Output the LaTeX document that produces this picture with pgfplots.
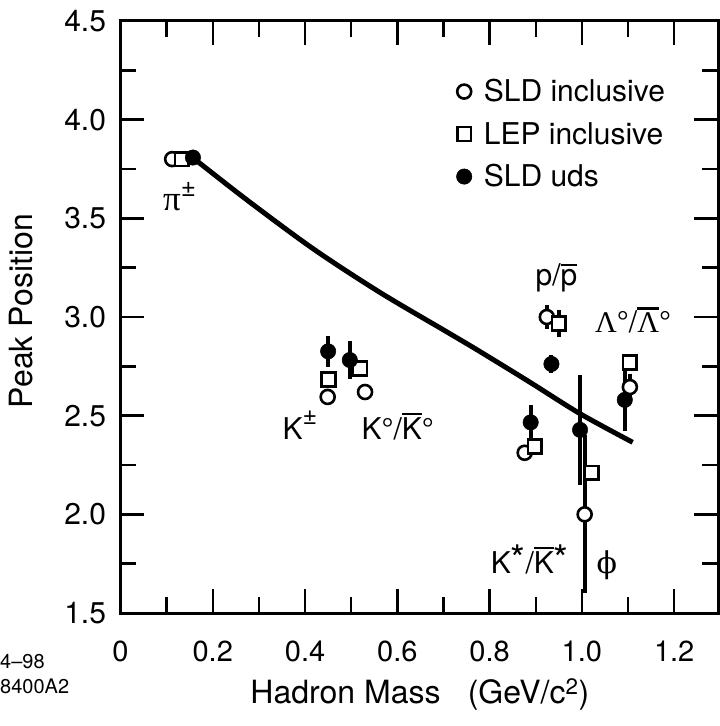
\documentclass[border=0pt]{standalone}
\usepackage{fontspec}
\setmainfont{TeX Gyre Heros}
\newfontfamily\gr{Liberation Serif}
\newfontfamily\grb{DejaVu Serif}
\usepackage{pgfplots}
\usepackage{pgfplotstable}
\pgfplotsset{compat=1.18}
\usetikzlibrary{calc}
\newcommand\ovl[1]{\leavevmode\vbox{\hrule height 2.4pt\kern 2.6pt\hbox{#1}}}
\newcommand\lab{\fontsize{30}{36}\selectfont}

\pgfplotstableread{
x y e
0.112 3.800 0
0.449 2.595 0
0.530 2.620 0.035
0.924 3.000 0.06
0.876 2.312 0.02
1.006 2.000 0.40
1.104 2.645 0.065
}\sldinc
\pgfplotstableread{
x y e
0.133 3.800 0
0.451 2.683 0
0.519 2.740 0.03
0.950 2.968 0.07
0.898 2.343 0.04
1.021 2.210 0.02
1.104 2.770 0
}\lepinc
\pgfplotstableread{
x y e
0.157 3.808 0.012
0.450 2.826 0.08
0.497 2.782 0.095
0.934 2.762 0.046
0.889 2.466 0.09
0.996 2.428 0.28
1.093 2.580 0.16
}\slduds
\pgfplotstableread{
x y
0.158 3.805
0.273 3.595
0.418 3.345
0.562 3.125
0.707 2.925
0.779 2.825
0.887 2.670
0.996 2.510
1.110 2.365
}\curve

\begin{document}
\begin{tikzpicture}
\begin{axis}[
  scale only axis, width=597.5pt, height=592pt,
  xmin=0, xmax=1.295, ymin=1.5, ymax=4.5,
  axis line style={line width=3pt},
  every tick/.style={black, line width=2.5pt},
  tick align=inside,
  major tick length=24pt, minor tick length=16pt,
  xtick={0,0.2,0.4,0.6,0.8,1.0,1.2}, xticklabels={0,0.2,0.4,0.6,0.8,1.0,1.2},
  minor x tick num=1,
  ytick={1.5,2,2.5,3,3.5,4,4.5}, yticklabels={1.5,2.0,2.5,3.0,3.5,4.0,4.5},
  minor y tick num=1,
  /pgf/number format/assume math mode=true,
  xticklabel style={font=\fontsize{29}{34}\selectfont, yshift=-24pt},
  yticklabel style={font=\fontsize{30}{36}\selectfont, xshift=-11pt},
  xlabel={Hadron Mass\hspace{0.85em}(GeV/c\textsuperscript{2})},
  ylabel={Peak Position},
  label style={font=\fontsize{32}{40}\selectfont},
  xlabel style={at={(axis description cs:0.501,-0.137)}, anchor=center},
  ylabel style={at={(axis description cs:-0.166,0.51)}, anchor=center},
  legend cell align=left,
  legend image code/.code={\draw[#1] plot coordinates {(0pt,0pt)};},
  legend style={draw=none, fill=none, font=\lab, inner sep=0pt,
    at={(axis description cs:0.562,0.809)}, anchor=west,
    nodes={inner sep=0pt, text height=22pt, text depth=2pt},
    row sep=18.5pt, column sep=12pt},
  error bars/error bar style={line width=4pt},
]
\addplot[smooth, line width=5pt, forget plot] table[x=x,y=y] {\curve};
\addplot[only marks, mark=*, mark size=7pt,
  mark options={fill=white, draw=black, line width=2.6pt},
  error bars/.cd, y dir=both, y explicit, error mark=none]
  table[x=x, y=y, y error=e] {\sldinc};
\addlegendentry{SLD inclusive}
\addplot[only marks, mark=square*, mark size=6.9pt,
  mark options={fill=white, draw=black, line width=2.6pt},
  error bars/.cd, y dir=both, y explicit, error mark=none]
  table[x=x, y=y, y error=e] {\lepinc};
\addlegendentry{LEP inclusive}
\addplot[only marks, mark=*, mark size=7.7pt,
  mark options={fill=black, draw=black, line width=0.5pt},
  error bars/.cd, y dir=both, y explicit, error mark=none]
  table[x=x, y=y, y error=e] {\slduds};
\addlegendentry{SLD uds}

\node[font=\lab] at (axis cs:0.128,3.61) {{\gr\fontsize{35}{35}\selectfont π}\raisebox{14pt}{\fontsize{26}{26}\selectfont ±}};
\node[font=\lab] at (axis cs:0.389,2.453) {K\raisebox{15pt}{\fontsize{25}{25}\selectfont ±}};
\node[font=\lab] at (axis cs:0.601,2.445) {K°/\ovl{K}°};
\node[font=\lab] at (axis cs:0.945,3.20) {p/\ovl{p}};
\node[font=\lab] at (axis cs:1.111,2.985) {{\gr Λ}°/\ovl{\gr Λ}°};
\node[font=\lab] at (axis cs:0.887,1.77) {K\raisebox{1pt}{\fontsize{38}{38}\selectfont *}/\ovl{K}\raisebox{1pt}{\fontsize{38}{38}\selectfont *}};
\node[font=\lab] at (axis cs:1.054,1.743) {{\grb\fontsize{30}{30}\selectfont ϕ}};
\coordinate (LL) at (rel axis cs:0,0);
\coordinate (UR) at (rel axis cs:1,1);
\end{axis}
\node[anchor=west, inner sep=0pt, font=\fontsize{20}{22}\selectfont] at ($(LL)+(-120.5pt,-49pt)$) {4–98};
\node[anchor=west, inner sep=0pt, font=\fontsize{20}{22}\selectfont] at ($(LL)+(-120.5pt,-73pt)$) {8400A2};
\pgfresetboundingbox
\path[use as bounding box] ($(LL)+(-120.5pt,-113pt)$) rectangle ($(UR)+(2pt,21pt)$);
\end{tikzpicture}
\end{document}
